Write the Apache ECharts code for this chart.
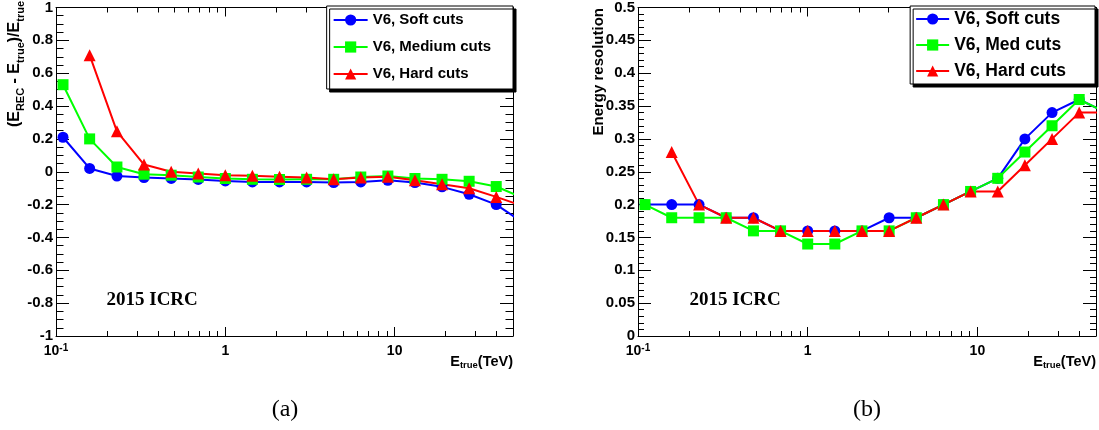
<!DOCTYPE html>
<html><head><meta charset="utf-8">
<script src="https://cdn.jsdelivr.net/npm/echarts@6/dist/echarts.min.js"></script>
<style>html,body{margin:0;padding:0;background:#fff}#c{width:1099px;height:430px}</style>
</head><body><div id="c"></div>
<script>
// ---- data ----
const energyTeV = [0.11, 0.158, 0.229, 0.331, 0.479, 0.692, 1.0, 1.445, 2.089, 3.02, 4.365, 6.31, 9.12, 13.18, 19.05, 27.54, 39.81, 57.54];

const biasSoft   = [0.21, 0.02, -0.026, -0.035, -0.041, -0.047, -0.056, -0.062, -0.062, -0.062, -0.066, -0.062, -0.052, -0.066, -0.092, -0.137, -0.20, -0.31];
const biasMedium = [0.53, 0.20, 0.029, -0.015, -0.021, -0.032, -0.041, -0.046, -0.047, -0.046, -0.046, -0.032, -0.026, -0.041, -0.046, -0.058, -0.09, -0.16];
const biasHard   = [null, 0.71, 0.246, 0.044, 0.0, -0.011, -0.021, -0.025, -0.03, -0.035, -0.046, -0.035, -0.03, -0.052, -0.076, -0.10, -0.153, -0.21];

const resSoft = [0.20, 0.20, 0.20, 0.18, 0.18, 0.16, 0.16, 0.16, 0.16, 0.18, 0.18, 0.20, 0.22, 0.24, 0.30, 0.34, 0.36, 0.34];
const resMed  = [0.20, 0.18, 0.18, 0.18, 0.16, 0.16, 0.14, 0.14, 0.16, 0.16, 0.18, 0.20, 0.22, 0.24, 0.28, 0.32, 0.36, 0.34];
const resHard = [null, 0.28, 0.20, 0.18, 0.18, 0.16, 0.16, 0.16, 0.16, 0.16, 0.18, 0.20, 0.22, 0.22, 0.26, 0.30, 0.34, 0.34];

const namesLeft  = ['V6, Soft cuts', 'V6, Medium cuts', 'V6, Hard cuts'];
const namesRight = ['V6, Soft cuts', 'V6, Med cuts', 'V6, Hard cuts'];

const xMajorTicks = [0.1, 1, 10];
const xMinorTicks = [0.2, 0.3, 0.4, 0.5, 0.6, 0.7, 0.8, 0.9, 2, 3, 4, 5, 6, 7, 8, 9, 20, 30, 40];
const xRange = [0.1, 50];
const biasRange = [-1, 1, 0.2];
const resRange = [0, 0.5, 0.05];

// ---- styling ----
const SANS = 'Liberation Sans';
const BLACK = '#000';
const colors = ['#0000ff', '#00ff00', '#ff0000'];
const symbols = ['circle', 'rect', 'triangle'];
const symbolSizes = [11, 11, 12];

function pairs(ys) {
  return energyTeV.map((e, i) => [e, ys[i]]).filter(p => p[1] !== null);
}

const xLabelRich = {
  m: {fontFamily: SANS, fontWeight: 'bold', fontSize: 14, height: 15, verticalAlign: 'top', color: BLACK},
  p: {fontFamily: SANS, fontWeight: 'bold', fontSize: 10, height: 8, verticalAlign: 'top', color: BLACK}
};

function xAxes(g) {
  const base = {type: 'log', logBase: 10, gridIndex: g, min: xRange[0], max: xRange[1],
    splitLine: {show: false}, minorTick: {show: false}, minorSplitLine: {show: false}};
  const list = [];
  ['bottom', 'top'].forEach(pos => {
    list.push(Object.assign({}, base, {
      position: pos,
      axisLine: {show: true, onZero: false, lineStyle: {color: BLACK, width: 1}},
      axisTick: {show: true, inside: true, length: 9, customValues: xMajorTicks, lineStyle: {color: BLACK, width: 1}},
      axisLabel: pos === 'bottom' ? {
        show: true, customValues: xMajorTicks, margin: 8, hideOverlap: false,
        formatter: v => v < 0.5 ? '{m|10}{p|-1}' : '{m|' + (v < 5 ? '1' : '10') + '}',
        rich: xLabelRich
      } : {show: false}
    }));
    list.push(Object.assign({}, base, {
      position: pos,
      axisLine: {show: false, onZero: false},
      axisTick: {show: true, inside: true, length: 5, customValues: xMinorTicks, lineStyle: {color: BLACK, width: 1}},
      axisLabel: {show: false}
    }));
  });
  return list;
}

function yAxes(g, range, minorSplit, minorLen) {
  return ['left', 'right'].map(pos => ({
    type: 'value', gridIndex: g, position: pos, min: range[0], max: range[1], interval: range[2],
    axisLine: {show: true, onZero: false, lineStyle: {color: BLACK, width: 1}},
    axisTick: {show: true, inside: true, length: 13, lineStyle: {color: BLACK, width: 1}},
    minorTick: {show: true, splitNumber: minorSplit, length: minorLen, lineStyle: {color: BLACK, width: 1}},
    splitLine: {show: false}, minorSplitLine: {show: false},
    axisLabel: pos === 'left' ? {show: true, margin: 3, fontFamily: SANS, fontWeight: 'bold', fontSize: 15,
      color: BLACK, showMinLabel: true, showMaxLabel: true, hideOverlap: false} : {show: false}
  }));
}

function lineSeries(names, sets, xi, yi) {
  return sets.map((ys, k) => ({
    name: names[k], type: 'line', xAxisIndex: xi, yAxisIndex: yi,
    data: pairs(ys), symbol: symbols[k], symbolSize: symbolSizes[k], showAllSymbol: true,
    lineStyle: {color: colors[k], width: 2}, itemStyle: {color: colors[k]},
    clip: true, animation: false, emphasis: {disabled: true}
  }));
}

function legend(names, o) {
  return {
    data: names, orient: 'vertical', right: o.right, top: 6, padding: o.padding,
    itemWidth: o.itemWidth, itemHeight: 14, itemGap: o.itemGap,
    textStyle: {fontFamily: SANS, fontWeight: 'bold', fontSize: o.fontSize, lineHeight: o.lineHeight, color: BLACK},
    backgroundColor: '#fff', borderColor: BLACK, borderWidth: 1, borderRadius: 0,
    shadowColor: 'rgba(0,0,0,1)', shadowBlur: 0, shadowOffsetX: 3, shadowOffsetY: 3,
    selectedMode: false
  };
}

const titleRichL = {
  m: {fontFamily: SANS, fontWeight: 'bold', fontSize: 16, height: 16, verticalAlign: 'top', fill: BLACK, color: BLACK},
  s: {fontFamily: SANS, fontWeight: 'bold', fontSize: 11, height: 29, verticalAlign: 'top', fill: BLACK, color: BLACK}
};
const titleRichX = {
  m: {fontFamily: SANS, fontWeight: 'bold', fontSize: 14.5, height: 15, verticalAlign: 'top', fill: BLACK, color: BLACK},
  s: {fontFamily: SANS, fontWeight: 'bold', fontSize: 9.5, height: 23, verticalAlign: 'top', fill: BLACK, color: BLACK}
};

function txt(x, y, text, font, align, valign, extra) {
  return Object.assign({type: 'text', x: x, y: y, silent: true,
    style: {text: text, font: font, fill: BLACK, align: align, verticalAlign: valign}}, extra || {});
}

const chart = echarts.init(document.getElementById('c'), null, {renderer: 'canvas'});
chart.setOption({
  animation: false,
  backgroundColor: '#fff',
  grid: [
    {left: 56, top: 6, width: 457, height: 330},
    {left: 638, top: 6, width: 458, height: 330}
  ],
  xAxis: xAxes(0).concat(xAxes(1)),
  yAxis: yAxes(0, biasRange, 4, 7.5).concat(yAxes(1, resRange, 5, 6)),
  legend: [
    legend(namesLeft, {right: 586, padding: [6, 22, 7, 6], itemWidth: 34, itemGap: 11, fontSize: 15, lineHeight: 16}),
    legend(namesRight, {right: 4, padding: [4, 29, 4, 5], itemWidth: 33, itemGap: 8, fontSize: 17.5, lineHeight: 18})
  ],
  series: lineSeries(namesLeft, [biasSoft, biasMedium, biasHard], 0, 0)
    .concat(lineSeries(namesRight, [resSoft, resMed, resHard], 4, 2)),
  graphic: [
    {type: 'text', x: 6.5, y: 1, rotation: Math.PI / 2, silent: true,
      style: {text: '{m|(E}{s|REC}{m| - E}{s|true}{m|)/E}{s|true}', rich: titleRichL,
        align: 'right', verticalAlign: 'top', fill: BLACK}},
    txt(599, 8, 'Energy resolution', 'bold 15px "Liberation Sans"', 'right', 'middle', {rotation: Math.PI / 2}),
    {type: 'text', x: 513, y: 354, silent: true,
      style: {text: '{m|E}{s|true}{m|(TeV)}', rich: titleRichX, align: 'right', verticalAlign: 'top', fill: BLACK}},
    {type: 'text', x: 1096, y: 354, silent: true,
      style: {text: '{m|E}{s|true}{m|(TeV)}', rich: titleRichX, align: 'right', verticalAlign: 'top', fill: BLACK}},
    txt(106.5, 300, '2015 ICRC', 'bold 19px "Liberation Serif"', 'left', 'middle'),
    txt(689.5, 300, '2015 ICRC', 'bold 19px "Liberation Serif"', 'left', 'middle'),
    txt(285, 410, '(a)', '24px "Liberation Serif"', 'center', 'middle'),
    txt(867, 410, '(b)', '24px "Liberation Serif"', 'center', 'middle')
  ]
});
</script>
</body></html>
